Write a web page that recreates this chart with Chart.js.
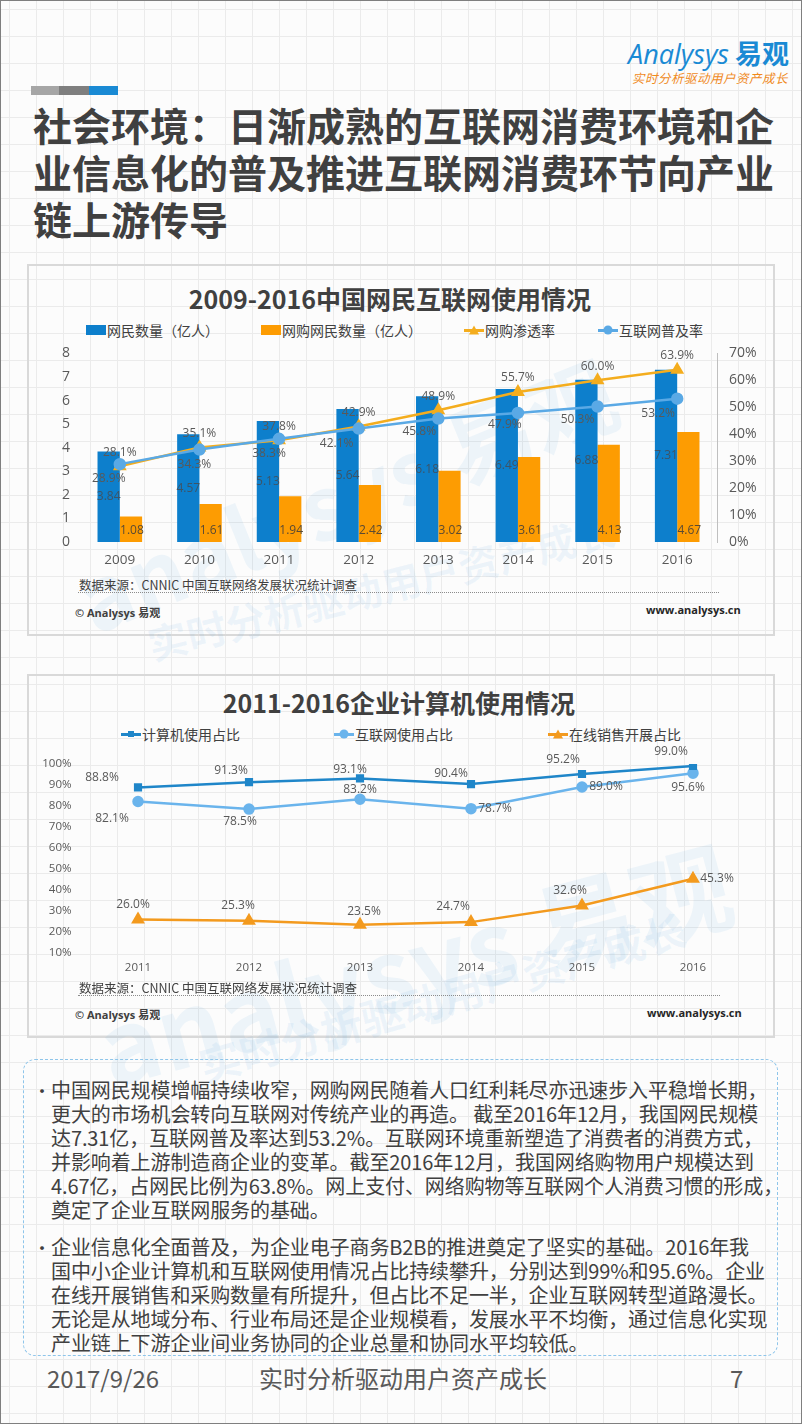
<!DOCTYPE html>
<html>
<head>
<meta charset="utf-8">
<script src="https://cdn.jsdelivr.net/npm/chart.js@4.4.1/dist/chart.umd.min.js"></script>
<style>
  html, body { margin: 0; padding: 0; }
  body { width: 802px; height: 1424px; overflow: hidden; font-family: "Noto Sans CJK SC", "Open Sans", sans-serif; }
  #page {
    position: relative; width: 800px; height: 1422px; border: 1px solid #7f7f7f;
    background-color: #fcfcfc;
    background-image: linear-gradient(#ebebeb 1px, transparent 1px), linear-gradient(90deg, #ebebeb 1px, transparent 1px);
    background-size: 27px 27px; background-position: 8px 8px;
    color: #404040;
  }
  .abs { position: absolute; white-space: nowrap; }
  .logo { right: 12px; top: 32px; color: #1a8ad4; font-size: 27px; font-family: "Open Sans", sans-serif; }
  .logo b { font-family: "Noto Sans CJK SC"; font-weight: 700; margin-left: 6px; }
  .slogan { left: 631px; top: 67px; color: #f08a1c; font-size: 12.5px; font-style: italic; letter-spacing: 0.5px; }
  .bar { top: 85px; height: 9px; }
  .title { left: 32px; font-size: 39px; font-weight: 700; line-height: 47px; color: #404040; }
  .box { position: absolute; left: 26px; width: 744px; border: 2px solid #d9d9d9; }
  .ctitle { font-weight: 700; font-size: 25px; color: #404040; transform: translateX(-50%); line-height: 30px; }
  .legend { font-size: 14px; color: #404040; line-height: 18px; display: flex; align-items: center; }
  .mk { position: relative; display: inline-block; width: 20px; height: 10px; margin-right: 1px; }
  .mk .ln { position: absolute; left: 0; right: 0; top: 4px; height: 2.5px; }
  .mk .dot { position: absolute; left: 50%; top: 50%; transform: translate(-50%, -50%); }
  .src { font-size: 12.5px; color: #404040; }
  .dots { height: 0; border-top: 1px dotted #8c8c8c; }
  .copy { font-size: 11px; font-weight: 700; color: #404040; font-family: "Open Sans", "Noto Sans CJK SC"; }
  .www { font-size: 11px; font-weight: 700; color: #262626; font-family: "Open Sans", sans-serif; }
  .wm { color: rgba(90, 165, 225, 0.09); font-weight: 700; transform-origin: 0 0; }
  canvas { position: absolute; }
  #textbox { position: absolute; left: 22px; top: 1058px; width: 753px; height: 295px; border: 1.5px dashed #8ec5ea; border-radius: 12px; }
  .para { position: absolute; left: 27px; font-size: 20px; line-height: 24px; color: #404040; letter-spacing: -0.1px; }
  .para div { white-space: nowrap; }
  .bullet { position: absolute; left: -18px; top: 0; font-size: 18px; }
  .foot { top: 1360px; font-size: 24px; color: #595959; line-height: 34px; }
</style>
</head>
<body>
<div id="page">
  <div class="abs logo"><i>Analysys</i><b>易观</b></div>
  <div class="abs slogan">实时分析驱动用户资产成长</div>
  <div class="abs bar" style="left:30px;width:28px;background:#a6a6a6"></div>
  <div class="abs bar" style="left:58px;width:30px;background:#7f7f7f"></div>
  <div class="abs bar" style="left:88px;width:29px;background:#1a8ad4"></div>
  <div class="abs title" style="top:100px">社会环境：日渐成熟的互联网消费环境和企</div>
  <div class="abs title" style="top:147px">业信息化的普及推进互联网消费环节向产业</div>
  <div class="abs title" style="top:194px">链上游传导</div>

  <!-- chart 1 -->
  <div class="box" style="top:263px;height:368px"></div>
  <div class="abs wm" style="left:55px;top:540px;font-size:88px;transform:rotate(-22deg)">analysys 易观</div>
  <div class="abs wm" style="left:140px;top:615px;font-size:40px;transform:rotate(-14deg)">实时分析驱动用户资产成长</div>
  <div class="abs ctitle" style="left:389px;top:282px">2009-2016中国网民互联网使用情况</div>
  <div id="legend1"></div>
  <canvas id="chart1" style="left:26px;top:332px" width="746" height="242"></canvas>
  <div class="abs src" style="left:78px;top:574px">数据来源：CNNIC 中国互联网络发展状况统计调查</div>
  <div class="abs dots" style="left:77px;top:591px;width:641px"></div>
  <div class="abs copy" style="left:74px;top:603px">© Analysys 易观</div>
  <div class="abs www" style="left:645px;top:601px">www.analysys.cn</div>

  <!-- chart 2 -->
  <div class="box" style="top:673px;height:360px"></div>
  <div class="abs wm" style="left:80px;top:975px;font-size:100px;transform:rotate(-15deg)">analysys 易观</div>
  <div class="abs wm" style="left:190px;top:1035px;font-size:42px;transform:rotate(-16deg)">实时分析驱动用户资产成长</div>
  <div class="abs ctitle" style="left:398px;top:686px">2011-2016企业计算机使用情况</div>
  <div id="legend2"></div>
  <canvas id="chart2" style="left:26px;top:745px" width="746" height="235"></canvas>
  <div class="abs src" style="left:78px;top:977px">数据来源：CNNIC 中国互联网络发展状况统计调查</div>
  <div class="abs dots" style="left:77px;top:994px;width:642px"></div>
  <div class="abs copy" style="left:74px;top:1005px">© Analysys 易观</div>
  <div class="abs www" style="left:646px;top:1004px">www.analysys.cn</div>

  <div id="textbox">
    <div class="para" style="top:18px">
      <span class="bullet">•</span>
      <div>中国网民规模增幅持续收窄，网购网民随着人口红利耗尽亦迅速步入平稳增长期，</div>
      <div>更大的市场机会转向互联网对传统产业的再造。 截至2016年12月，我国网民规模</div>
      <div>达7.31亿，互联网普及率达到53.2%。互联网环境重新塑造了消费者的消费方式，</div>
      <div>并影响着上游制造商企业的变革。截至2016年12月，我国网络购物用户规模达到</div>
      <div>4.67亿，占网民比例为63.8%。网上支付、网络购物等互联网个人消费习惯的形成，</div>
      <div>奠定了企业互联网服务的基础。</div>
    </div>
    <div class="para" style="top:175px">
      <span class="bullet">•</span>
      <div>企业信息化全面普及，为企业电子商务B2B的推进奠定了坚实的基础。2016年我</div>
      <div>国中小企业计算机和互联网使用情况占比持续攀升，分别达到99%和95.6%。企业</div>
      <div>在线开展销售和采购数量有所提升，但占比不足一半，企业互联网转型道路漫长。</div>
      <div>无论是从地域分布、行业布局还是企业规模看，发展水平不均衡，通过信息化实现</div>
      <div>产业链上下游企业间业务协同的企业总量和协同水平均较低。</div>
    </div>
  </div>

  <div class="abs foot" style="left:46px">2017/9/26</div>
  <div class="abs foot" style="left:258px">实时分析驱动用户资产成长</div>
  <div class="abs foot" style="left:729px">7</div>
</div>

<script>
// chart 1 data
var years1 = ['2009', '2010', '2011', '2012', '2013', '2014', '2015', '2016'];
var netizens = [3.84, 4.57, 5.13, 5.64, 6.18, 6.49, 6.88, 7.31];      // 亿人
var shoppers = [1.08, 1.61, 1.94, 2.42, 3.02, 3.61, 4.13, 4.67];      // 亿人
var shopRate = [28.1, 35.1, 37.8, 42.9, 48.9, 55.7, 60.0, 63.9];      // %
var netRate = [28.9, 34.3, 38.3, 42.1, 45.8, 47.9, 50.3, 53.2];       // %
var leftTicks = ['0', '1', '2', '3', '4', '5', '6', '7', '8'];
var rightTicks = ['0%', '10%', '20%', '30%', '40%', '50%', '60%', '70%'];

// chart 2 data
var years2 = ['2011', '2012', '2013', '2014', '2015', '2016'];
var pcUse = [88.8, 91.3, 93.1, 90.4, 95.2, 99.0];
var webUse = [82.1, 78.5, 83.2, 78.7, 89.0, 95.6];
var salesUse = [26.0, 25.3, 23.5, 24.7, 32.6, 45.3];
var pctTicks = ['10%', '20%', '30%', '40%', '50%', '60%', '70%', '80%', '90%', '100%'];

var numFont = '"Open Sans", "Noto Sans CJK SC", sans-serif';
var gray = '#595959';

// 数值标签
var valueLabels = {
    id: 'valueLabels',
    afterDatasetsDraw: function (chart, args, opts) {
        var ctx = chart.ctx;
        ctx.save();
        ctx.font = opts.font;
        ctx.textAlign = 'center';
        ctx.textBaseline = 'middle';
        opts.sets.forEach(function (s, i) {
            var meta = chart.getDatasetMeta(i);
            var data = chart.data.datasets[i].data;
            meta.data.forEach(function (el, j) {
                var x = el.x, y = el.y;
                if (s.at === 'middle') y = (el.y + el.base) / 2;
                if (s.at === 'base') y = el.base - s.inset;
                var off = s.offsets ? s.offsets[j] : (s.offset || [0, 0]);
                ctx.fillStyle = s.color || opts.color;
                ctx.fillText(s.format(data[j]), x + off[0], y + off[1]);
            });
        });
        ctx.restore();
    }
};

function pct(v) { return v.toFixed(1) + '%'; }

function buildLegend(id, chart, xs, top, markers) {
    var box = document.getElementById(id);
    chart.data.datasets.forEach(function (ds, i) {
        var item = document.createElement('div');
        item.className = 'abs legend';
        item.style.left = xs[i] + 'px';
        item.style.top = top + 'px';
        var mk = document.createElement('span');
        mk.className = 'mk';
        var m = markers[i];
        if (m === 'rect') {
            mk.style.background = ds.backgroundColor;
        } else {
            var ln = document.createElement('span');
            ln.className = 'ln';
            ln.style.background = ds.borderColor;
            mk.appendChild(ln);
            var dot = document.createElement('span');
            dot.className = 'dot';
            if (m === 'circle') {
                dot.style.cssText += 'width:9px;height:9px;border-radius:50%;background:' + ds.borderColor;
            } else if (m === 'rect2') {
                dot.style.cssText += 'width:6px;height:6px;background:' + ds.borderColor;
            } else {
                dot.style.cssText += 'width:0;height:0;border-left:5px solid transparent;border-right:5px solid transparent;border-bottom:9px solid ' + ds.borderColor;
            }
            mk.appendChild(dot);
        }
        item.appendChild(mk);
        item.appendChild(document.createTextNode(ds.label));
        box.appendChild(item);
    });
}

var c1 = document.getElementById('chart1').getContext('2d');
var chart1 = new Chart(c1, {
    data: {
        labels: years1,
        datasets: [{
            type: 'bar', label: '网民数量（亿人）', data: netizens, yAxisID: 'y',
            backgroundColor: '#0d7fcc', categoryPercentage: 0.56, barPercentage: 1.0, order: 3
        }, {
            type: 'bar', label: '网购网民数量（亿人）', data: shoppers, yAxisID: 'y',
            backgroundColor: '#fd9c02', categoryPercentage: 0.56, barPercentage: 1.0, order: 4
        }, {
            type: 'line', label: '网购渗透率', data: shopRate, yAxisID: 'y1',
            borderColor: '#f4ad1e', backgroundColor: '#f4ad1e', borderWidth: 2.5,
            pointStyle: 'triangle', pointRadius: 5.5, order: 2
        }, {
            type: 'line', label: '互联网普及率', data: netRate, yAxisID: 'y1',
            borderColor: '#5aa9e5', backgroundColor: '#5aa9e5', borderWidth: 2.5,
            pointStyle: 'circle', pointRadius: 5, order: 1
        }]
    },
    options: {
        responsive: false, animation: false,
        layout: { padding: 0 },
        plugins: {
            legend: { display: false }, tooltip: { enabled: false },
            valueLabels: {
                font: '12px ' + numFont, color: gray,
                sets: [
                    { at: 'middle', format: function (v) { return v.toFixed(2); }, color: '#3d5466' },
                    { at: 'base', inset: 11, offset: [1, 0], format: function (v) { return v.toFixed(2); }, color: '#5a4a33' },
                    { offset: [0, -14], format: pct },
                    { offsets: [[-11, 14], [-5, 15], [-10, 15], [-22, 15], [-19, 13], [-13, 12], [-20, 13], [-19, 15]], format: pct }
                ]
            }
        },
        scales: {
            x: {
                grid: { display: false, drawTicks: false }, border: { display: false },
                ticks: { color: gray, font: { size: 13.5, family: numFont }, padding: 10 },
                afterFit: function (s) { s.height = 33; }
            },
            y: {
                position: 'left', min: 0, max: 8,
                grid: { display: false, drawTicks: false }, border: { display: false },
                ticks: { stepSize: 1, color: gray, font: { size: 14, family: numFont }, padding: 10,
                    callback: function (v, i) { return leftTicks[i]; } },
                afterFit: function (s) { s.width = 53; }
            },
            y1: {
                position: 'right', min: 0, max: 70,
                grid: { display: false, drawTicks: false }, border: { display: true, color: '#bfbfbf', width: 1 },
                ticks: { stepSize: 10, color: gray, font: { size: 14, family: numFont }, padding: 12,
                    callback: function (v, i) { return rightTicks[i]; } },
                afterFit: function (s) { s.width = 56; }
            }
        }
    },
    plugins: [valueLabels]
});
buildLegend('legend1', chart1, [85, 260, 463, 597], 320, ['rect', 'rect', 'triangle', 'circle']);

var c2 = document.getElementById('chart2').getContext('2d');
var chart2 = new Chart(c2, {
    type: 'line',
    data: {
        labels: years2,
        datasets: [{
            label: '计算机使用占比', data: pcUse,
            borderColor: '#1f86c9', backgroundColor: '#1f86c9', borderWidth: 2.5,
            pointStyle: 'rect', pointRadius: 4
        }, {
            label: '互联网使用占比', data: webUse,
            borderColor: '#6ab4ec', backgroundColor: '#6ab4ec', borderWidth: 2.5,
            pointStyle: 'circle', pointRadius: 4.5
        }, {
            label: '在线销售开展占比', data: salesUse,
            borderColor: '#f39a1e', backgroundColor: '#f39a1e', borderWidth: 2.5,
            pointStyle: 'triangle', pointRadius: 5.5
        }]
    },
    options: {
        responsive: false, animation: false,
        layout: { padding: { top: 0, bottom: 0, left: 0, right: 24.5 } },
        plugins: {
            legend: { display: false }, tooltip: { enabled: false },
            valueLabels: {
                font: '12px ' + numFont, color: gray,
                sets: [
                    { offsets: [[-36, -10], [-18, -12], [-10, -9], [-20, -10], [-19, -14], [-22, -14]], format: pct },
                    { offsets: [[-26, 17], [-9, 13], [0, -10], [24, 0], [24, 0], [-5, 14]], format: pct },
                    { offsets: [[-5, -15], [-11, -15], [4, -13], [-18, -16], [-12, -15], [24, 0]], format: pct }
                ]
            }
        },
        scales: {
            x: {
                offset: true,
                grid: { display: false, drawTicks: false }, border: { display: false },
                ticks: { color: gray, font: { size: 11.5, family: numFont }, padding: 8 },
                afterFit: function (s) { s.height = 28; }
            },
            y: {
                min: 10, max: 100,
                grid: { display: false, drawTicks: false }, border: { display: false },
                ticks: { stepSize: 10, color: gray, font: { size: 11.5, family: numFont }, padding: 11,
                    callback: function (v, i) { return pctTicks[i]; } },
                afterFit: function (s) { s.width = 55.5; }
            }
        }
    },
    plugins: [valueLabels]
});
buildLegend('legend2', chart2, [120, 333, 547], 724, ['rect2', 'circle', 'triangle']);
</script>
</body>
</html>
